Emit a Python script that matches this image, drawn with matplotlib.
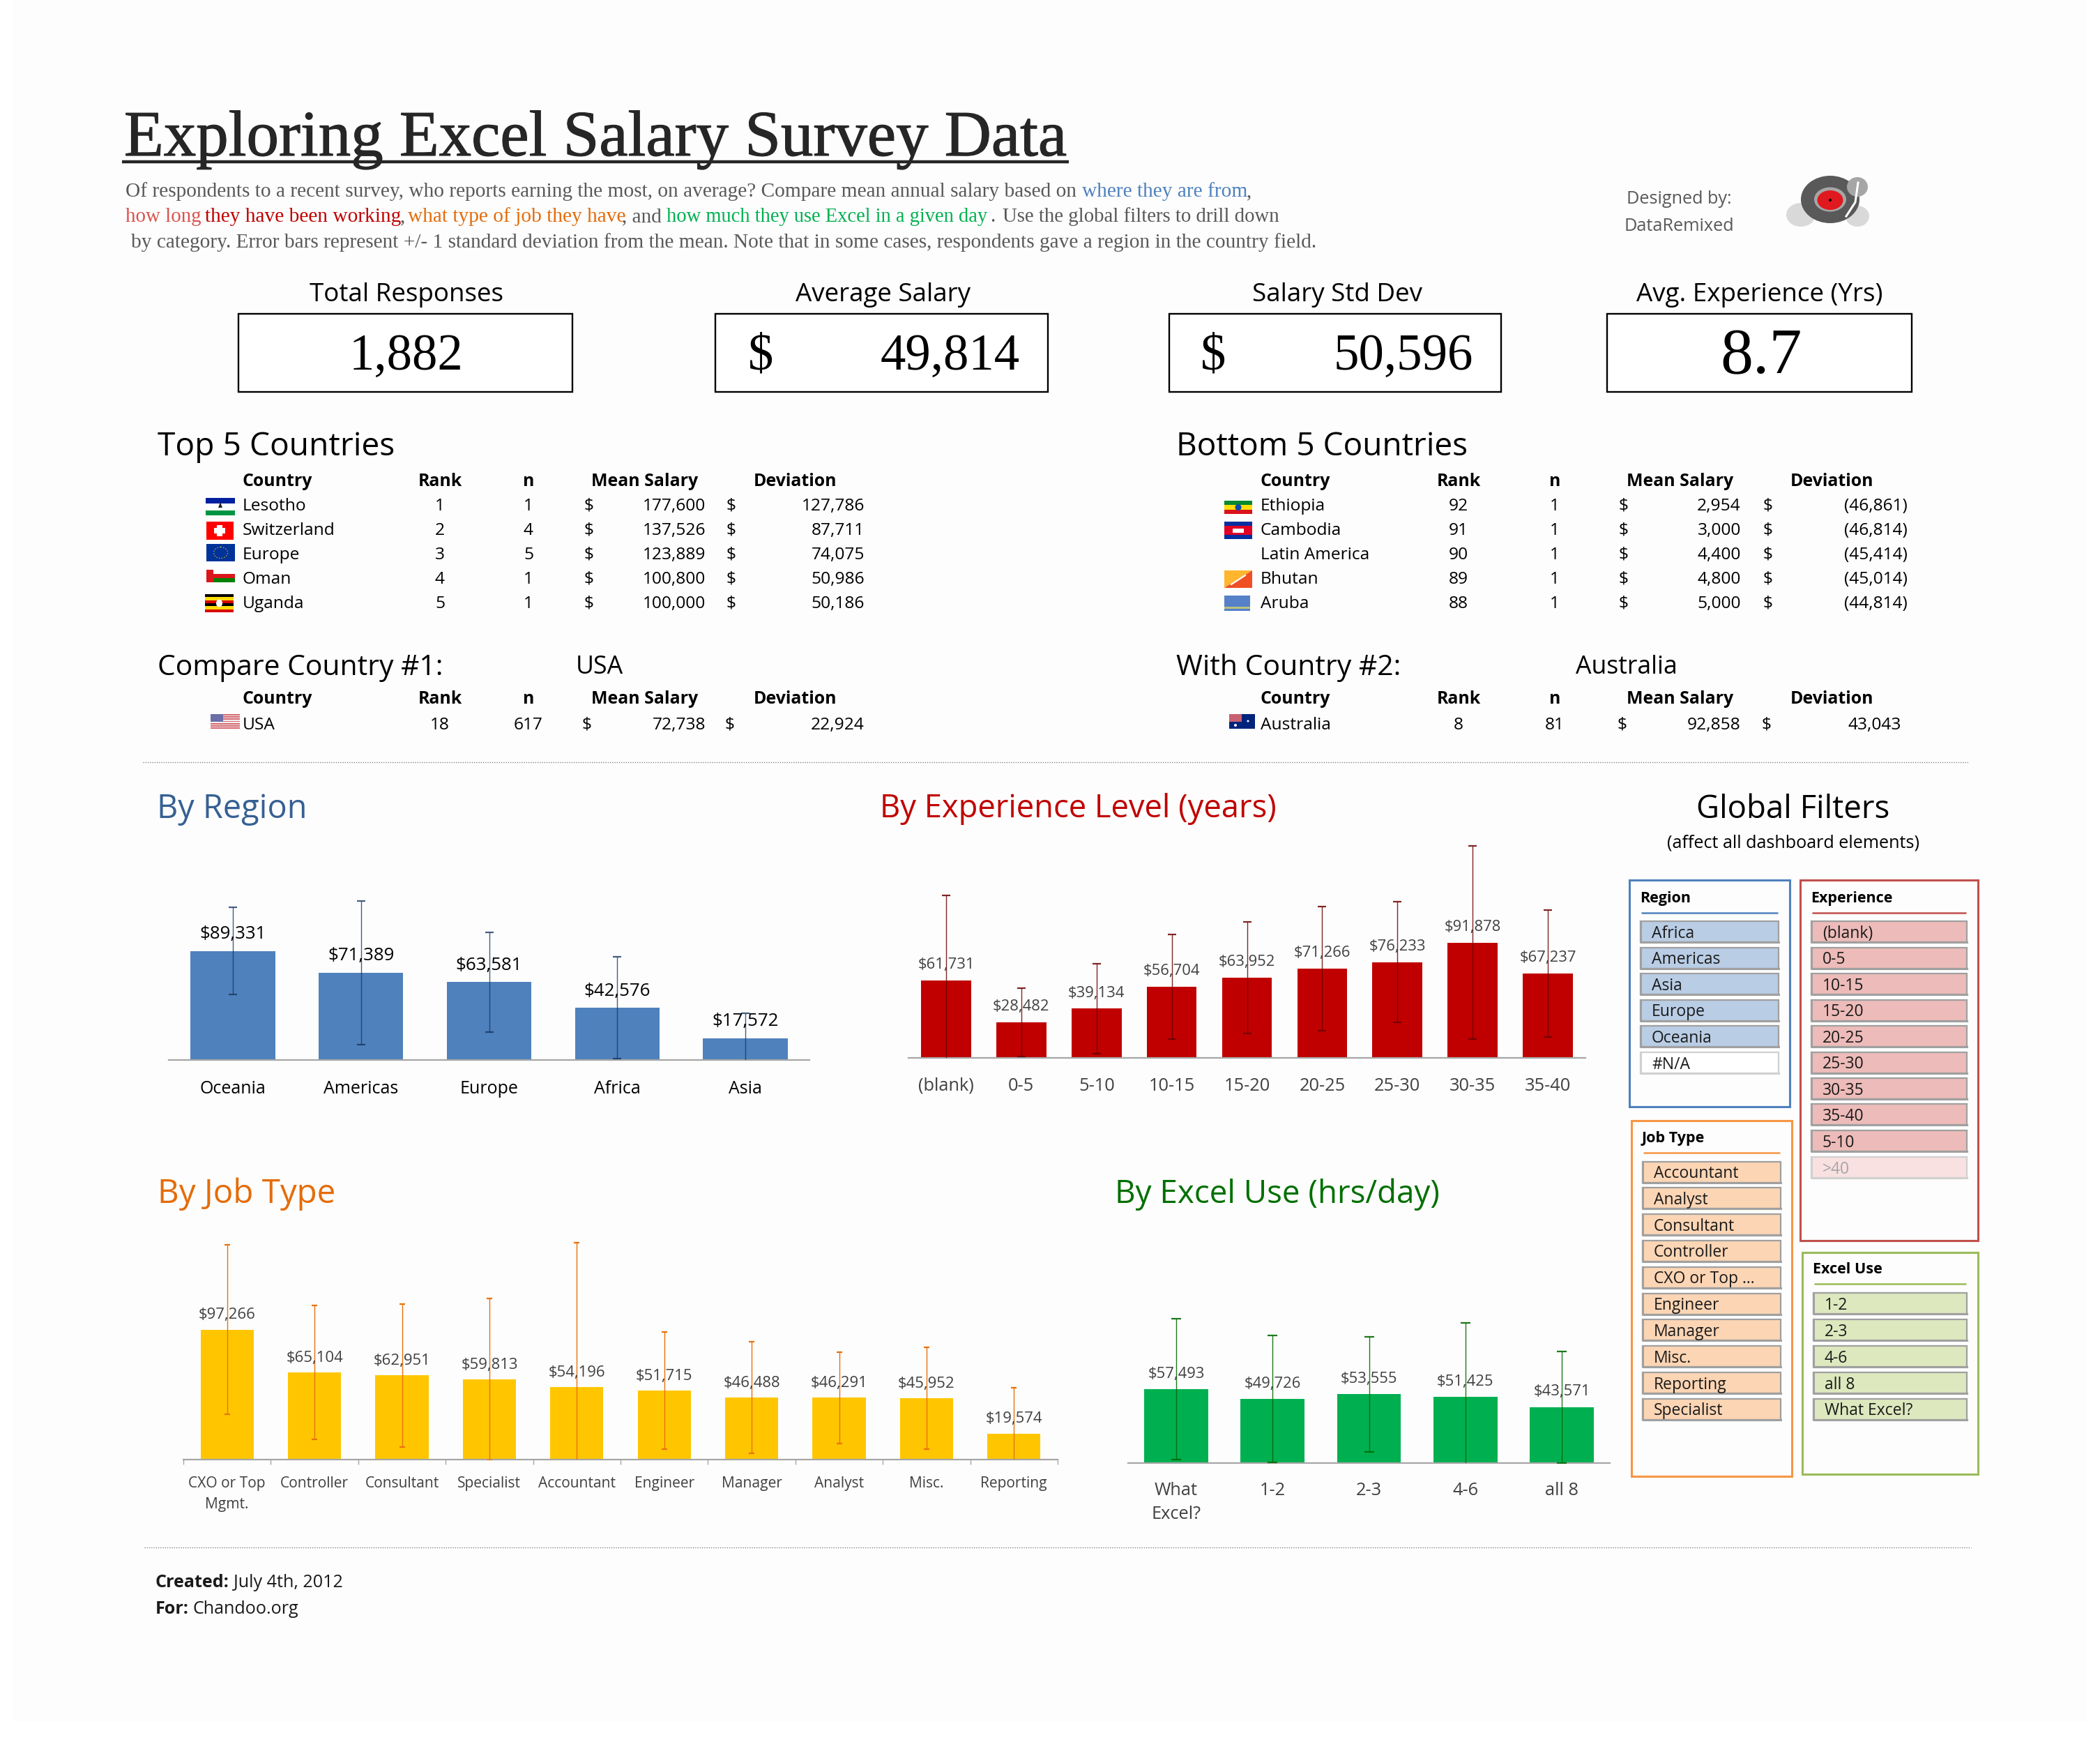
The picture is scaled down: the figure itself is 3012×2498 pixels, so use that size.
import matplotlib
matplotlib.use("Agg")
import matplotlib.pyplot as plt
import matplotlib.patheffects as pe
from matplotlib.patches import Rectangle, Ellipse, Polygon

W, H = 3012, 2498
SANS = "Open Sans"
SERIF = "Liberation Serif"

# ---------- data ----------
region_names = ["Oceania", "Americas", "Europe", "Africa", "Asia"]
region_mean = [89331, 71389, 63581, 42576, 17572]
region_std = [35800, 59000, 41200, 41900, 20700]

exp_names = ["(blank)", "0-5", "5-10", "10-15", "15-20", "20-25", "25-30", "30-35", "35-40"]
exp_mean = [61731, 28482, 39134, 56704, 63952, 71266, 76233, 91878, 67237]
exp_std = [68100, 27280, 36000, 41950, 44700, 49550, 48250, 77000, 50500]

job_names = ["CXO or Top\nMgmt.", "Controller", "Consultant", "Specialist", "Accountant",
             "Engineer", "Manager", "Analyst", "Misc.", "Reporting"]
job_mean = [97266, 65104, 62951, 59813, 54196, 51715, 46488, 46291, 45952, 19574]
job_std = [63370, 50000, 53300, 60400, 108160, 43750, 41670, 34030, 38020, 34375]

use_names = ["What\nExcel?", "1-2", "2-3", "4-6", "all 8"]
use_mean = [57493, 49726, 53555, 51425, 43571]
use_std = [54350, 49140, 44490, 57520, 43370]

top_country = ["Lesotho", "Switzerland", "Europe", "Oman", "Uganda"]
top_rank = [1, 2, 3, 4, 5]
top_n = [1, 4, 5, 1, 1]
top_salary = [177600, 137526, 123889, 100800, 100000]
top_dev = [127786, 87711, 74075, 50986, 50186]

bot_country = ["Ethiopia", "Cambodia", "Latin America", "Bhutan", "Aruba"]
bot_rank = [92, 91, 90, 89, 88]
bot_n = [1, 1, 1, 1, 1]
bot_salary = [2954, 3000, 4400, 4800, 5000]
bot_dev = [-46861, -46814, -45414, -45014, -44814]

cmp1 = ("USA", 18, 617, 72738, 22924)
cmp2 = ("Australia", 8, 81, 92858, 43043)

kpi_titles = ["Total Responses", "Average Salary", "Salary Std Dev", "Avg. Experience (Yrs)"]
kpi_values = ["1,882", "49,814", "50,596", "8.7"]

filter_region = ["Africa", "Americas", "Asia", "Europe", "Oceania", "#N/A"]
filter_exp = ["(blank)", "0-5", "10-15", "15-20", "20-25", "25-30", "30-35", "35-40", "5-10", ">40"]
filter_job = ["Accountant", "Analyst", "Consultant", "Controller", "CXO or Top ...", "Engineer",
              "Manager", "Misc.", "Reporting", "Specialist"]
filter_use = ["1-2", "2-3", "4-6", "all 8", "What Excel?"]

# ---------- canvas ----------
fig = plt.figure(figsize=(W / 100, H / 100), dpi=100, facecolor="#FFFFFF")
R = fig.canvas.get_renderer()
ov = fig.add_axes([0, 0, 1, 1], zorder=0)
ov.set_xlim(0, W)
ov.set_ylim(H, 0)
ov.axis("off")
ov.add_patch(Rectangle((19, 0), W - 38, 2469, fc="#FDFDFD", ec="none", zorder=0))


def fs(s, target, family=SANS, weight="normal"):
    t = fig.text(0, 0, s, fontsize=20, family=family, weight=weight)
    w = t.get_window_extent(R).width
    t.remove()
    return 20 * target / w


def T(x, y, s, size, color="#000000", ha="left", va="center", family=SANS, weight="normal", **kw):
    if va == "center":
        y = y + size * (0.16 if family == SANS else 0.09)
    return ov.text(x, y, s, fontsize=size, color=color, ha=ha, va=va, family=family, weight=weight, zorder=5, **kw)


# ---------- header ----------
INK = "#262626"
title = "Exploring Excel Salary Survey Data"
tt = T(178, 223, title, fs(title, 1354, SERIF), INK, va="baseline", family=SERIF)
tt.set_path_effects([pe.withStroke(linewidth=0.8, foreground=INK)])
ov.plot([175, 1533], [232, 232], color=INK, lw=3.2, solid_capstyle="butt", zorder=5)

GREY = "#595959"
line1 = "Of respondents to a recent survey, who reports earning the most, on average? Compare mean annual salary based on"
sub = fs(line1, 1365, SERIF)
T(180, 273, line1, sub, GREY, family=SERIF)
T(1552, 273, "where they are from", sub, "#4F81BD", family=SERIF)
T(1788, 273, ",", sub, GREY, family=SERIF)
T(180, 309, "how long", fs("how long", 108, SERIF), "#D9534F", family=SERIF)
T(294, 309, "they have been working", sub, "#C00000", family=SERIF)
T(574, 309, ",", sub, GREY, family=SERIF)
T(585, 309, "what type of job they have", sub, "#E46C0A", family=SERIF)
T(892, 309, ", and", sub, GREY, family=SERIF)
green = "how much they use Excel in a given day"
T(956, 309, green, fs(green, 462, SERIF), "#00B050", family=SERIF)
T(1420, 309, ".", sub, GREY, family=SERIF)
rest = "Use the global filters to drill down"
T(1438, 309, rest, fs(rest, 396, SERIF), GREY, family=SERIF)
T(188, 346, "by category. Error bars represent +/- 1 standard deviation from the mean. Note that in some cases, respondents gave a region in the country field.",
  sub, GREY, family=SERIF)

des = fs("Designed by:", 151)
T(2408, 283, "Designed by:", des, "#595959", ha="center")
T(2408, 322, "DataRemixed", des, "#595959", ha="center")

# logo
ov.add_patch(Ellipse((2583, 308), 42, 34, fc="#D9D9D9", ec="none", zorder=2))
ov.add_patch(Ellipse((2664, 310), 34, 30, fc="#D9D9D9", ec="none", zorder=2))
ov.add_patch(Ellipse((2625, 286), 84, 68, fc="#595959", ec="none", zorder=3))
ov.add_patch(Ellipse((2664, 268), 30, 28, fc="#A6A6A6", ec="none", zorder=3))
ov.add_patch(Ellipse((2625, 286), 46, 35, fc="#A6A6A6", ec="none", zorder=4))
ov.add_patch(Ellipse((2625, 287), 37, 28, fc="#E0191F", ec="none", zorder=4))
ov.add_patch(Ellipse((2625, 287), 4, 4, fc="#000000", ec="none", zorder=4))
ov.plot([2665, 2661, 2648], [262, 290, 310], color="#FFFFFF", lw=2.2, zorder=4)

# ---------- KPI boxes ----------
kpi_t = fs("Total Responses", 277)
kpi_v = fs("49,814", 199, SERIF)
boxes = [(342, 821), (1026, 1503), (1677, 2153), (2305, 2742)]
centers = [583, 1267, 1918, 2524]
for (a, b), c, t_ in zip(boxes, centers, kpi_titles):
    ov.add_patch(Rectangle((a, 450), b - a, 112, fc="#FFFFFF", ec="#000000", lw=1.7, zorder=2))
    T(c, 419, t_, kpi_t, ha="center")
T(583, 507, kpi_values[0], kpi_v, ha="center", family=SERIF)
T(1091, 507, "$", kpi_v, ha="center", family=SERIF)
T(1463, 507, kpi_values[1], kpi_v, ha="right", family=SERIF)
T(1740, 507, "$", kpi_v, ha="center", family=SERIF)
T(2113, 507, kpi_values[2], kpi_v, ha="right", family=SERIF)
T(2526, 507, kpi_values[3], fs("8.7", 117, SERIF), ha="center", family=SERIF)

# ---------- tables ----------
sec = fs("Top 5 Countries", 339)
hdr = fs("Mean Salary", 153, weight="bold")
row = fs("Switzerland", 132)


def money(v):
    return f"({-v:,})" if v < 0 else f"{v:,}"


def header(xs, y):
    T(xs["c"], y, "Country", hdr, weight="bold")
    T(xs["r"], y, "Rank", hdr, weight="bold", ha="center")
    T(xs["n"], y, "n", hdr, weight="bold", ha="center")
    T(xs["m"], y, "Mean Salary", hdr, weight="bold", ha="center")
    T(xs["d"], y, "Deviation", hdr, weight="bold", ha="center")


def row_line(xs, y, c, r, n, m, d):
    T(xs["c"], y, c, row)
    T(xs["r"], y, str(r), row, ha="center")
    T(xs["n"], y, str(n), row, ha="center")
    T(xs["s1"], y, "$", row, ha="center")
    T(xs["v1"], y, money(m), row, ha="right")
    T(xs["s2"], y, "$", row, ha="center")
    T(xs["v2"], y, money(d), row, ha="right")


LX = dict(c=348, r=631, n=758, m=925, d=1141, s1=845, v1=1012, s2=1049, v2=1240)
RX = dict(c=1808, r=2092, n=2230, m=2410, d=2628, s1=2329, v1=2497, s2=2536, v2=2736)
rows_y = [723, 758, 793, 828, 863]

T(226, 636, "Top 5 Countries", sec)
T(1687, 636, "Bottom 5 Countries", fs("Bottom 5 Countries", 417))
header(LX, 688)
header(RX, 688)
for i, y in enumerate(rows_y):
    row_line(LX, y, top_country[i], top_rank[i], top_n[i], top_salary[i], top_dev[i])
    row_line(RX, y, bot_country[i], bot_rank[i], bot_n[i], bot_salary[i], bot_dev[i])

cmp_s = fs("Compare Country #1:", 409)
name_s = fs("Australia", 146)
T(226, 953, "Compare Country #1:", cmp_s)
T(826, 953, cmp1[0], name_s)
T(1687, 953, "With Country #2:", fs("With Country #2:", 323))
T(2260, 953, cmp2[0], name_s)
header(LX, 1000)
header(RX, 1000)
row_line(dict(LX, s1=842, s2=1047), 1037, *cmp1)
row_line(dict(RX, s1=2327, s2=2534, v2=2727), 1037, *cmp2)


# ---------- flags ----------
def flag(x0, x1, y0, y1, stripes, z=3):
    tot = sum(w for _, w in stripes)
    y = y0
    for col, w in stripes:
        h = (y1 - y0) * w / tot
        ov.add_patch(Rectangle((x0, y), x1 - x0, h, fc=col, ec="none", zorder=z))
        y += h


flag(295, 337, 714, 739, [("#00209F", 3), ("#FFFFFF", 4), ("#009543", 3)])
ov.add_patch(Polygon([[313, 728], [319, 728], [316, 720]], fc="#222222", ec="none", zorder=4))
flag(296, 335, 748, 774, [("#FF0000", 1)])
ov.add_patch(Rectangle((311.5, 753), 8, 16, fc="#FFFFFF", ec="none", zorder=4))
ov.add_patch(Rectangle((307.5, 757), 16, 8, fc="#FFFFFF", ec="none", zorder=4))
flag(296, 337, 780, 805, [("#003399", 1)])
ov.add_patch(Ellipse((316.5, 792.5), 20, 16, fc="none", ec="#C9A227", lw=1, ls=":", zorder=4))
flag(296, 337, 817, 835, [("#FFFFFF", 1), ("#DB161B", 1), ("#008000", 1)])
ov.add_patch(Rectangle((296, 817), 10, 18, fc="#DB161B", ec="none", zorder=4))
flag(294, 335, 852, 878, [("#000000", 1), ("#FCDC04", 1), ("#D90000", 1), ("#000000", 1), ("#FCDC04", 1), ("#D90000", 1)])
ov.add_patch(Ellipse((314.5, 865), 9, 11, fc="#FFFFFF", ec="none", zorder=4))

flag(1756, 1796, 718, 737, [("#078930", 1), ("#FCDD09", 1), ("#DA121A", 1)])
ov.add_patch(Ellipse((1776, 727.5), 9, 9, fc="#0F47AF", ec="none", zorder=4))
flag(1756, 1796, 748, 773, [("#032EA1", 1), ("#E00025", 2), ("#032EA1", 1)])
ov.add_patch(Rectangle((1768, 758), 16, 6, fc="#FFFFFF", ec="none", zorder=4))
ov.add_patch(Polygon([[1756, 818], [1796, 818], [1756, 843]], fc="#FFB52E", ec="none", zorder=3))
ov.add_patch(Polygon([[1796, 818], [1796, 843], [1756, 843]], fc="#F04E23", ec="none", zorder=3))
ov.plot([1766, 1786], [838, 825], color="#FFFFFF", lw=1.6, zorder=4)
flag(1756, 1793, 854, 876, [("#5680C8", 5), ("#B6C17E", 1), ("#5680C8", 1)])

us = []
for k in range(7):
    us += [("#D66A72", 1), ("#F3F0F0", 1)]
flag(302, 344, 1024, 1045, us[:13])
ov.add_patch(Rectangle((302, 1024), 18, 11, fc="#6C6EA8", ec="none", zorder=4))
flag(1763, 1800, 1024, 1045, [("#00247D", 1)])
ov.add_patch(Rectangle((1763, 1024), 18, 11, fc="#C86070", ec="none", zorder=4))
ov.add_patch(Ellipse((1790, 1034), 3, 3, fc="#FFFFFF", ec="none", zorder=4))
ov.add_patch(Ellipse((1772, 1040), 4, 4, fc="#FFFFFF", ec="none", zorder=4))

# ---------- separators ----------
for y, a, b in [(1093, 205, 2824), (2219, 207, 2827)]:
    ov.plot([a, b], [y, y], color="#707070", lw=0.9, ls=(0, (1, 1.6)), zorder=2)

# ---------- section heads ----------
T(225, 1155, "By Region", fs("By Region", 215), "#366092")
T(1262, 1155, "By Experience Level (years)", fs("By Experience Level (years)", 569), "#C00000")
T(226, 1707, "By Job Type", fs("By Job Type", 255), "#E46C0A")
T(1599, 1707, "By Excel Use (hrs/day)", fs("By Excel Use (hrs/day)", 465), "#006F00")
T(2572, 1156, "Global Filters", fs("Global Filters", 277), ha="center")
T(2572, 1206, "(affect all dashboard elements)", fs("(affect all dashboard elements)", 361), ha="center")


# ---------- charts ----------
def chart(x0, x1, base, top, px_per, names, means, stds, bar_w, bar_c, err_c, err_a, cap,
          val_size, val_col, val_off, lab_size, lab_col, pad, ls=1.3, ticks=False):
    ax = fig.add_axes([x0 / W, 1 - base / H, (x1 - x0) / W, (base - top) / H], zorder=2)
    ax.patch.set_alpha(0)
    n = len(names)
    ax.set_xlim(-0.5, n - 0.5)
    ax.set_ylim(0, (base - top) / px_per)
    ax.bar(range(n), means, width=bar_w, color=bar_c, zorder=2)
    ax.errorbar(range(n), means, yerr=stds, fmt="none", ecolor=err_c, alpha=err_a,
                elinewidth=1.0, capsize=cap, capthick=1.6, zorder=3)
    for i, v in enumerate(means):
        ax.annotate(f"${v:,}", (i, v), xytext=(0, val_off * 0.72), textcoords="offset points",
                    ha="center", va="center", fontsize=val_size, color=val_col, family=SANS, zorder=4,
                    annotation_clip=False)
    for s in ("top", "left", "right"):
        ax.spines[s].set_visible(False)
    ax.spines["bottom"].set_color("#A6A6A6")
    ax.spines["bottom"].set_linewidth(1.6)
    ax.set_yticks([])
    ax.set_xticks(range(n))
    ax.set_xticklabels(names, fontsize=lab_size, color=lab_col, family=SANS, linespacing=ls)
    ax.tick_params(axis="x", length=0, pad=pad * 0.72)
    if ticks:
        ax.set_xticks([i - 0.5 for i in range(n + 1)], minor=True)
        ax.tick_params(axis="x", which="minor", length=5, width=1, color="#A6A6A6")
    return ax


chart(242, 1161, 1519.5, 1270, 0.001746, region_names, region_mean, region_std, 0.66,
      "#4F81BD", "#17375E", 0.8, 4, fs("$89,331", 95), "#000000", 24,
      fs("Americas", 107), "#000000", 29)
chart(1303, 2274, 1516.7, 1200, 0.001796, exp_names, exp_mean, exp_std, 0.664,
      "#C00000", "#6B0000", 0.85, 4, fs("$61,731", 81), "#404040", 22,
      fs("(blank)", 80), "#404040", 28)
chart(263, 1517, 2093.3, 1770, 0.00192, job_names, job_mean, job_std, 0.607,
      "#FFC600", "#E8720C", 1.0, 3.2, fs("$97,266", 82), "#404040", 21,
      fs("Accountant", 111), "#404040", 24, ls=1.55, ticks=True)
chart(1618, 2309, 2098.4, 1850, 0.00185, use_names, use_mean, use_std, 0.665,
      "#00B050", "#056B05", 0.9, 5, fs("$57,493", 81), "#404040", 22,
      fs("What", 62), "#404040", 27, ls=1.45)

# ---------- filter panels ----------
fh = fs("Experience", 118, weight="bold")
fi = fs("Consultant", 116)


def panel(bx0, bx1, by0, by1, col, head, hx, hy, lx0, lx1, ly, ix0, ix1, iys, items, fill, tx, dim=None):
    ov.add_patch(Rectangle((bx0, by0), bx1 - bx0, by1 - by0, fc="none", ec=col, lw=2.2, zorder=2))
    T(hx, hy, head, fh, weight="bold")
    ov.plot([lx0, lx1], [ly, ly], color=col, lw=1.8, zorder=3, solid_capstyle="butt")
    for y, name in zip(iys, items):
        f, e, c = fill, "#A0A0A0", "#1A1A1A"
        if dim and name in dim:
            f, e, c = dim[name]
        ov.add_patch(Rectangle((ix0, y - 15), ix1 - ix0, 30, fc=f, ec=e, lw=1.6, zorder=3))
        ov.plot([ix0, ix0, ix1], [y - 15, y + 15, y + 15], color=e, lw=2.2, zorder=3)
        T(tx, y, name, fi, c)


panel(2337, 2567, 1262, 1587, "#4F81BD", "Region", 2352, 1286, 2354, 2550, 1308.5, 2353, 2551,
      [1336, 1373.5, 1411, 1448.5, 1486, 1524], filter_region, "#B9CDE5", 2369,
      dim={"#N/A": ("#FFFFFF", "#D0D0D0", "#1A1A1A")})
panel(2582, 2837, 1262, 1779, "#C0504D", "Experience", 2597, 1286, 2599, 2820, 1308.5, 2598, 2821,
      [1336, 1373.5, 1411, 1448.5, 1486, 1523.5, 1561, 1598, 1636, 1674], filter_exp, "#EDBBB9", 2614,
      dim={">40": ("#F9E0E1", "#D0D0D0", "#A6A6A6")})
panel(2340, 2570, 1607, 2117, "#F79646", "Job Type", 2355, 1630, 2357, 2553, 1652.5, 2356, 2554,
      [1680.5, 1718, 1756, 1793.5, 1831.5, 1869.5, 1907, 1945, 1983, 2020.5], filter_job, "#FCD5B4", 2372)
panel(2585, 2837, 1796, 2114, "#9BBB59", "Excel Use", 2600, 1818, 2602, 2820, 1841, 2601, 2821,
      [1869, 1907, 1945, 1983, 2020.5], filter_use, "#DEE8BE", 2617)

# ---------- footer ----------
ft = fs("Chandoo.org", 151)
fb = T(223, 2267, "Created:", ft, "#1A1A1A", weight="bold")
T(223 + fb.get_window_extent(R).width + 6, 2267, "July 4th, 2012", ft, "#1A1A1A")
fb2 = T(223, 2305, "For:", ft, "#1A1A1A", weight="bold")
T(223 + fb2.get_window_extent(R).width + 6, 2305, "Chandoo.org", ft, "#1A1A1A")

fig.savefig("out.png", dpi=100, facecolor=fig.get_facecolor())
